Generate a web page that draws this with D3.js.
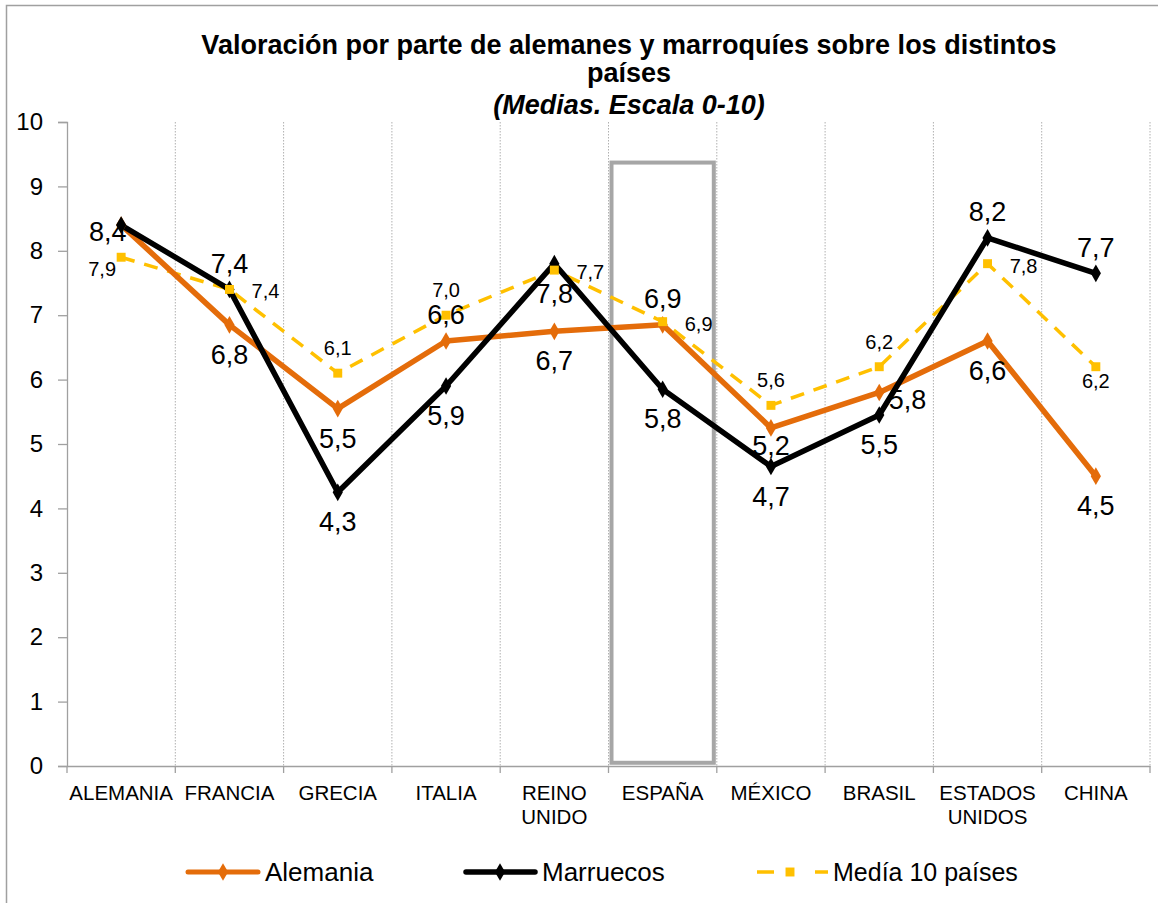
<!doctype html>
<html>
<head>
<meta charset="utf-8">
<style>
  body { margin: 0; background: white; }
  svg { font-family: "Liberation Sans", Arial, sans-serif; }
  .grid line { stroke: #b0b0b0; stroke-dasharray: 1.5,1.5; }
</style>
<script src="https://d3js.org/d3.v7.min.js"></script>
</head>
<body>
<script>
// data
var paises = ['ALEMANIA', 'FRANCIA', 'GRECIA', 'ITALIA', 'REINO UNIDO', 'ESPAÑA', 'MÉXICO', 'BRASIL', 'ESTADOS UNIDOS', 'CHINA'];
var alemania = [8.4, 6.85, 5.55, 6.6, 6.75, 6.85, 5.25, 5.8, 6.6, 4.5];
var marruecos = [8.4, 7.4, 4.25, 5.9, 7.8, 5.85, 4.65, 5.45, 8.2, 7.65];
var media = [7.9, 7.4, 6.1, 7.0, 7.7, 6.9, 5.6, 6.2, 7.8, 6.2];
var alemaniaLbl = [null, '6,8', '5,5', '6,6', '6,7', '6,9', '5,2', '5,8', '6,6', '4,5'];
var marruecosLbl = ['8,4', '7,4', '4,3', '5,9', '7,8', '5,8', '4,7', '5,5', '8,2', '7,7'];
var mediaLbl = ['7,9', '7,4', '6,1', '7,0', '7,7', '6,9', '5,6', '6,2', '7,8', '6,2'];
var yTicks = [0, 1, 2, 3, 4, 5, 6, 7, 8, 9, 10];

// where each label sits relative to its point
var alemaniaPos = [null, 'below', 'below', 'above', 'below', 'above', 'belownear', 'rightnear', 'below', 'below'];
var marruecosPos = ['left', 'above', 'below', 'below', 'below', 'below', 'below', 'below', 'above', 'above'];
var mediaPos = ['leftbelow', 'right', 'above', 'above', 'right', 'right', 'above', 'above', 'right', 'below'];

var W = 1158, H = 903;
var plotL = 67, plotR = 1150, plotT = 122, plotB = 766;

var svg = d3.select('body').append('svg')
  .attr('width', W).attr('height', H);

// outer frame
svg.append('rect')
  .attr('x', 6.5).attr('y', 5.5)
  .attr('width', W + 10).attr('height', H + 10)
  .attr('fill', 'none').attr('stroke', '#a0a0a0').attr('stroke-width', 1.5);

var x = d3.scaleBand().domain(paises).range([plotL, plotR]);
var y = d3.scaleLinear().domain([0, 10]).range([plotB, plotT]);
var cx = function(i) { return x(paises[i]) + x.bandwidth() / 2; };

// vertical dotted grid at category boundaries
svg.append('g').attr('class', 'grid')
  .selectAll('line').data(paises)
  .enter().append('line')
  .attr('x1', d => x(d) + x.bandwidth()).attr('x2', d => x(d) + x.bandwidth())
  .attr('y1', plotT).attr('y2', plotB);

// y axis
var yAxis = svg.append('g')
  .attr('transform', `translate(${plotL},0)`)
  .call(d3.axisLeft(y).tickValues(yTicks).tickSize(9).tickPadding(15));
yAxis.select('.domain').attr('stroke', '#a0a0a0').attr('stroke-width', 1.3);
yAxis.selectAll('.tick line').attr('stroke', '#a0a0a0').attr('stroke-width', 1.3);
yAxis.selectAll('text').attr('font-size', 24).attr('fill', '#000')
  .attr('font-family', '"Liberation Sans", Arial, sans-serif');

// x axis
var xAxis = svg.append('g')
  .attr('transform', `translate(0,${plotB})`)
  .call(d3.axisBottom(x).tickSize(0).tickFormat(''));
xAxis.select('.domain').attr('stroke', '#a0a0a0').attr('stroke-width', 1.3);
svg.append('g').selectAll('line').data([null].concat(paises))
  .enter().append('line')
  .attr('x1', (d, i) => plotL + i * x.bandwidth()).attr('x2', (d, i) => plotL + i * x.bandwidth())
  .attr('y1', plotB).attr('y2', plotB + 7)
  .attr('stroke', '#a0a0a0').attr('stroke-width', 1.3);

// category labels (two lines where needed)
svg.append('g').selectAll('text').data(paises)
  .enter().append('text')
  .attr('text-anchor', 'middle')
  .attr('font-size', 20.5)
  .attr('x', d => x(d) + x.bandwidth() / 2)
  .attr('y', plotB + 34)
  .each(function(d) {
    var t = d3.select(this);
    var words = d.indexOf(' ') > 0 ? d.split(' ') : [d];
    words.forEach(function(w, k) {
      t.append('tspan').attr('x', t.attr('x')).attr('dy', k === 0 ? 0 : 24).text(w);
    });
  });

// grey box around ESPAÑA
svg.append('rect')
  .attr('x', x('ESPAÑA') + 3).attr('y', y(9.37))
  .attr('width', x.bandwidth() - 6).attr('height', y(0.05) - y(9.37))
  .attr('fill', 'none').attr('stroke', '#a6a6a6').attr('stroke-width', 4);

var line = d3.line().x((d, i) => cx(i)).y(d => y(d));

// thin green stray segment next to the first orange one
svg.append('path')
  .datum(alemania.slice(0, 2))
  .attr('d', line)
  .attr('transform', 'translate(2,1)')
  .attr('fill', 'none').attr('stroke', '#4cb86a').attr('stroke-width', 1.5);

// media (dashed yellow)
svg.append('path')
  .datum(media).attr('d', line)
  .attr('fill', 'none').attr('stroke', '#ffc000').attr('stroke-width', 3.5)
  .attr('stroke-dasharray', '14,10');

// alemania (orange)
svg.append('path')
  .datum(alemania).attr('d', line)
  .attr('fill', 'none').attr('stroke', '#e46c0a').attr('stroke-width', 5.5)
  .attr('stroke-linejoin', 'round');

// marruecos (black)
svg.append('path')
  .datum(marruecos).attr('d', line)
  .attr('fill', 'none').attr('stroke', '#000').attr('stroke-width', 5.5)
  .attr('stroke-linejoin', 'round');

var diamond = d3.symbol().type(d3.symbolDiamond).size(90);
var square = d3.symbol().type(d3.symbolSquare).size(80);

svg.append('g').selectAll('path').data(alemania)
  .enter().append('path')
  .attr('d', diamond)
  .attr('transform', (d, i) => `translate(${cx(i)},${y(d)})`)
  .attr('fill', '#e46c0a');

svg.append('g').selectAll('path').data(marruecos)
  .enter().append('path')
  .attr('d', diamond)
  .attr('transform', (d, i) => `translate(${cx(i)},${y(d)})`)
  .attr('fill', '#000');

svg.append('g').selectAll('path').data(media)
  .enter().append('path')
  .attr('d', square)
  .attr('transform', (d, i) => `translate(${cx(i)},${y(d)})`)
  .attr('fill', '#ffc000');

// data labels
function addLabels(vals, lbls, pos, size) {
  var off = {
    above: [0, -size * 0.62],
    below: [0, size * 1.45],
    belownear: [0, size * 1.0],
    right: [size * 1.8, size * 0.45],
    rightnear: [size * 1.05, size * 0.6],
    left: [-size * 0.5, size * 0.6],
    leftbelow: [-size * 0.95, size * 0.95]
  };
  if (size < 22) off.above = [0, -size * 0.9];
  if (size < 22) off.below = [0, size * 1.05];
  vals.forEach(function(v, i) {
    if (lbls[i] === null) return;
    var o = off[pos[i]];
    svg.append('text')
      .attr('text-anchor', 'middle')
      .attr('font-size', size)
      .attr('x', cx(i) + o[0])
      .attr('y', y(v) + o[1])
      .text(lbls[i]);
  });
}
addLabels(marruecos, marruecosLbl, marruecosPos, 27);
addLabels(alemania, alemaniaLbl, alemaniaPos, 27);
addLabels(media, mediaLbl, mediaPos, 20);

// title
var title = svg.append('text').attr('text-anchor', 'middle').attr('font-weight', 'bold').attr('font-size', 27);
title.append('tspan').attr('x', 629).attr('y', 54).text('Valoración por parte de alemanes y marroquíes sobre los distintos');
title.append('tspan').attr('x', 629).attr('y', 82).text('países');
title.append('tspan').attr('x', 629).attr('y', 114).attr('font-style', 'italic').text('(Medias. Escala 0-10)');

// legend
var legendY = 872;
var lg = svg.append('g');
// Alemania
lg.append('line').attr('x1', 188).attr('x2', 258).attr('y1', legendY).attr('y2', legendY)
  .attr('stroke', '#e46c0a').attr('stroke-width', 5).attr('stroke-linecap', 'round');
lg.append('path').attr('d', diamond).attr('transform', `translate(223,${legendY})`).attr('fill', '#e46c0a');
lg.append('text').attr('x', 265).attr('y', legendY + 9).attr('font-size', 26).text('Alemania');
// Marruecos
lg.append('line').attr('x1', 466).attr('x2', 535).attr('y1', legendY).attr('y2', legendY)
  .attr('stroke', '#000').attr('stroke-width', 5.5).attr('stroke-linecap', 'round');
lg.append('path').attr('d', diamond).attr('transform', `translate(500,${legendY})`).attr('fill', '#000');
lg.append('text').attr('x', 542).attr('y', legendY + 9).attr('font-size', 26).text('Marruecos');
// Media
lg.append('line').attr('x1', 757).attr('x2', 828).attr('y1', legendY).attr('y2', legendY)
  .attr('stroke', '#ffc000').attr('stroke-width', 3.5).attr('stroke-dasharray', '17,41');
lg.append('path').attr('d', square).attr('transform', `translate(790,${legendY})`).attr('fill', '#ffc000');
lg.append('text').attr('x', 833).attr('y', legendY + 9).attr('font-size', 25).text('Medía 10 países');
</script>
</body>
</html>
